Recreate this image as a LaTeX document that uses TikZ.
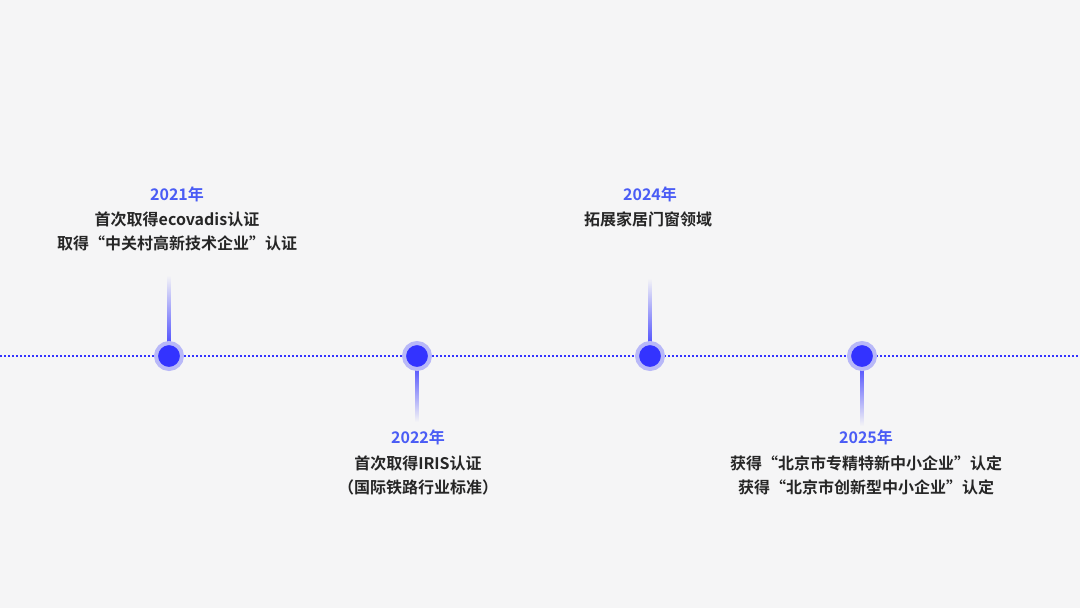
\documentclass[tikz,border=0pt]{standalone}
\usepackage{fontspec}
\setmainfont{Noto Sans CJK SC}[BoldFont={* Bold}]
\newfontfamily\cjk{Noto Sans CJK SC Bold}
\begin{document}
\definecolor{bg}{HTML}{F5F5F6}
\definecolor{dotb}{HTML}{3333FF}
\definecolor{halo}{HTML}{B8B8F8}
\definecolor{yr}{HTML}{4A5CF5}
\begin{tikzpicture}[x=0.75pt,y=-0.75pt,
  dot/.style={circle,fill=dotb,minimum size=19.5pt,inner sep=0pt,draw=halo,line width=3pt},
  yr/.style={text=yr,font=\cjk\fontsize{12}{18}\selectfont},
  txt/.style={text=black!85,font=\cjk\fontsize{12}{18}\selectfont,align=center}]
\fill[bg] (0,0) rectangle (1080,608);
\useasboundingbox (0,0) rectangle (1080,608);
\draw[dotb,line width=1.2pt,dash pattern=on 1.2pt off 1.8pt] (0,356) -- (1080,356);
% vertical stems
\shade[top color=bg,bottom color=dotb] (167.5,275) rectangle (170.5,356);
\shade[top color=bg,bottom color=dotb] (648.5,278) rectangle (651.5,356);
\shade[bottom color=bg,top color=dotb] (415.5,356) rectangle (418.5,422);
\shade[bottom color=bg,top color=dotb] (860.5,356) rectangle (863.5,426);
\node[dot] (d1) at (169,356) {};
\node[dot] (d2) at (417,356) {};
\node[dot] (d3) at (650,356) {};
\node[dot] (d4) at (862,356) {};
\node[yr] (y1) at (177,194) {2021年};
\node[txt] (t1) at (177,231) {首次取得ecovadis认证\\取得“中关村高新技术企业”认证};
\node[yr] (y2) at (418,437) {2022年};
\node[txt] (t2) at (418,475) {首次取得IRIS认证\\（国际铁路行业标准）};
\node[yr] (y3) at (650,194) {2024年};
\node[txt] (t3) at (648,219) {拓展家居门窗领域};
\node[yr] (y4) at (866,437) {2025年};
\node[txt] (t4) at (866,475) {获得“北京市专精特新中小企业”认定\\获得“北京市创新型中小企业”认定};
\end{tikzpicture}
\end{document}
